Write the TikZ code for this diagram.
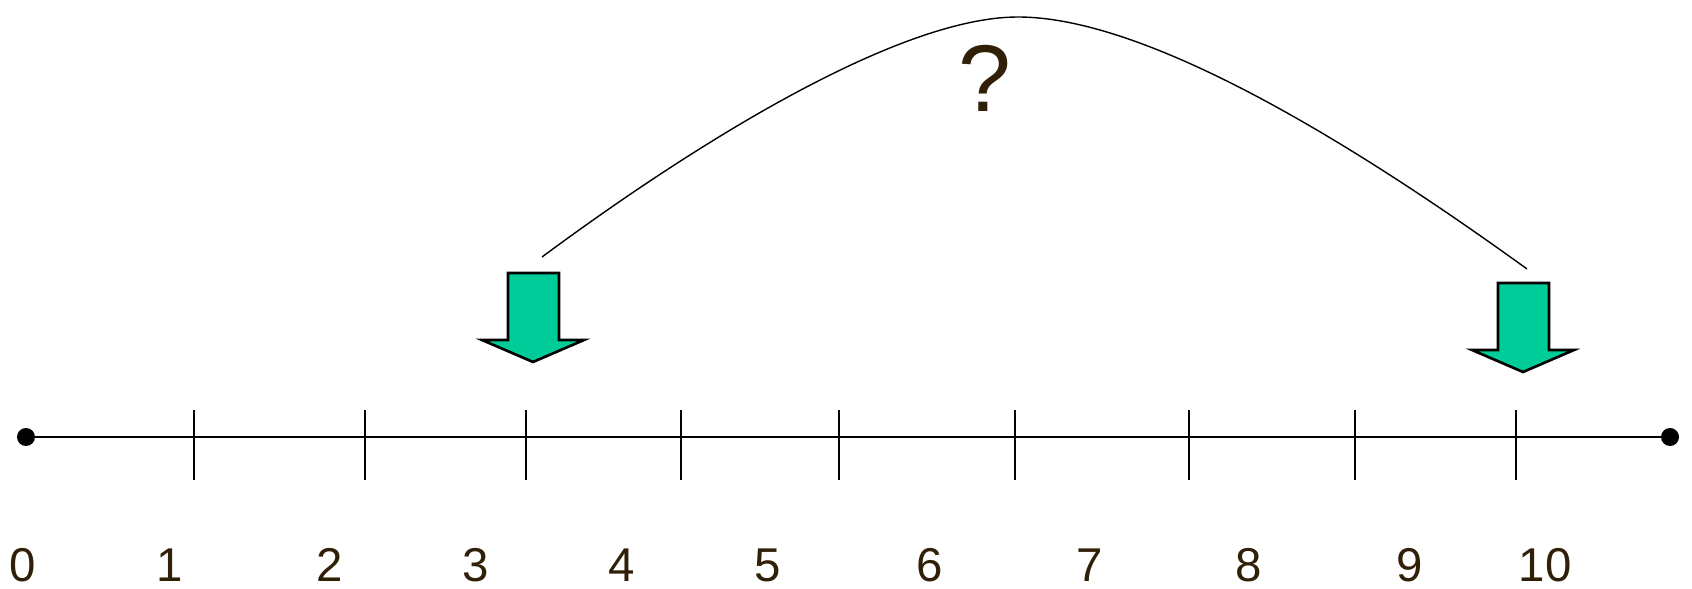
\documentclass[tikz,border=0pt]{standalone}
\usepackage{fontspec}
\setmainfont{Liberation Sans}
\usepackage{tikz}

\definecolor{labelbrown}{RGB}{48,32,8}
\definecolor{arrowgreen}{RGB}{0,204,153}

\begin{document}
\begin{tikzpicture}[
    x=0.02cm,
    y=0.02cm,
    every node/.style={text=labelbrown},
    axis/.style={draw=black, line width=1.1pt},
    tick/.style={draw=black, line width=1.1pt},
    dot/.style={circle, fill=black, inner sep=0pt, minimum size=0.36cm},
    numlabel/.style={anchor=base, inner sep=0pt, font=\fontsize{27}{32}\selectfont},
    pointer/.style={draw=black, fill=arrowgreen, line width=1.5pt, line join=miter},
    jump/.style={draw=black, line width=0.8pt}
  ]
    \useasboundingbox (0,0) rectangle (1692,588);

    % number line
    \node[dot] (left) at (26,151) {};
    \node[dot] (right) at (1670,151) {};
    \draw[axis] (left) -- (right);

    \foreach \x in {194,365,526,681,839,1015,1189,1355,1516} {
      \draw[tick] (\x,108) -- (\x,178);
    }

    \foreach \x/\n in {23/0,170/1,330/2,476/3,622/4,768/5,930/6,1090/7,1249/8,1410/9,1545/10} {
      \node[numlabel] (l\n) at (\x,7) {\n};
    }

    % block arrows
    \foreach \x/\y in {533/226,1523/216} {
      \draw[pointer] (\x-25,\y+89) -- (\x+26,\y+89) -- (\x+26,\y+22) -- (\x+51,\y+22)
        -- (\x,\y) -- (\x-51,\y+22) -- (\x-25,\y+22) -- cycle;
    }

    % the jump
    \coordinate (from) at (542,331);
    \coordinate (top) at (1018,571);
    \coordinate (to) at (1527,319);
    \draw[jump] (from) .. controls (700,448) and (900,571) .. (top)
      .. controls (1160,571) and (1390,418) .. (to);

    \node[font=\fontsize{54}{60}\selectfont] (ask) at (985,510) {?};
  \end{tikzpicture}
\end{document}
